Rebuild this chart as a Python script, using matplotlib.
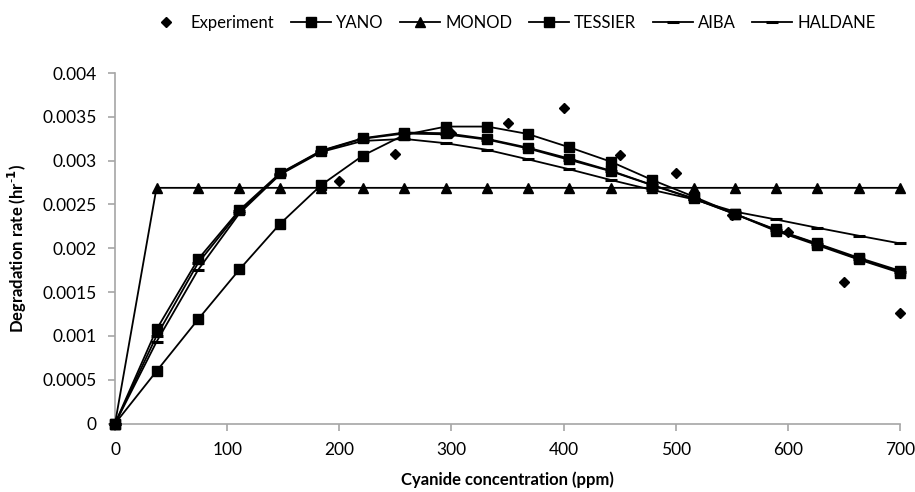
import numpy as np
import matplotlib.pyplot as plt

plt.rcParams['font.family'] = ['Lato', 'DejaVu Sans']

# cyanide concentration (ppm) for the model curves
conc = [0, 37, 74, 111, 147, 184, 221, 258, 295, 332,
        368, 405, 442, 479, 516, 553, 589, 626, 663, 700]

yano = [0, 0.000598, 0.001188, 0.001759, 0.002277, 0.002723, 0.003058, 0.003294, 0.003389, 0.003389,
        0.003305, 0.003153, 0.002989, 0.002780, 0.002590, 0.002391, 0.002216, 0.002056, 0.001893, 0.001744]
monod = [0] + [0.002690] * 19
tessier = [0, 0.001074, 0.001874, 0.002437, 0.002856, 0.003115, 0.003256, 0.003321, 0.003313, 0.003248,
           0.003149, 0.003024, 0.002886, 0.002723, 0.002570, 0.002390, 0.002200, 0.002037, 0.001873, 0.001721]
aiba = [0, 0.000933, 0.001752, 0.002400, 0.002840, 0.003100, 0.003225, 0.003248, 0.003199, 0.003123,
        0.003016, 0.002902, 0.002780, 0.002666, 0.002559, 0.002418, 0.002330, 0.002235, 0.002144, 0.002056]
haldane = [0, 0.001000, 0.001830, 0.002420, 0.002850, 0.003110, 0.003250, 0.003310, 0.003300, 0.003240,
           0.003140, 0.003010, 0.002880, 0.002720, 0.002565, 0.002390, 0.002210, 0.002050, 0.001880, 0.001735]

# experimental points
exp_conc = [0, 200, 250, 300, 350, 400, 450, 500, 550, 600, 650, 700]
exp_rate = [0, 0.002772, 0.003073, 0.00331, 0.003427, 0.003599, 0.003065, 0.002864,
            0.00238, 0.00219, 0.001618, 0.001257]

fig = plt.figure(figsize=(9.15, 4.92), dpi=100)
ax = fig.add_axes([0.1257, 0.139, 0.8579, 0.7126])

lw = 1.3
ax.plot(exp_conc, exp_rate, linestyle='none', marker='D', color='black', markersize=5, label='Experiment', zorder=5)
ax.plot(conc, yano, color='black', lw=lw, marker='s', markersize=7.5, label='YANO')
ax.plot(conc, monod, color='black', lw=lw, marker='^', markersize=7.5, label='MONOD')
ax.plot(conc, tessier, color='black', lw=lw, marker='s', markersize=7.5, label='TESSIER')
ax.plot(conc, aiba, color='black', lw=lw, marker='_', markersize=8, mew=2.2, label='AIBA')
ax.plot(conc, haldane, color='black', lw=lw, marker='_', markersize=8, mew=2.2, label='HALDANE')

ax.set_xlim(0, 700)
ax.set_ylim(0, 0.004)
ax.set_xticks(np.arange(0, 701, 100))
ax.set_yticks(np.arange(0, 0.00401, 0.0005))
ax.set_yticklabels(['0', '0.0005', '0.001', '0.0015', '0.002', '0.0025', '0.003', '0.0035', '0.004'])

for side in ['top', 'right']:
    ax.spines[side].set_visible(False)
for side in ['left', 'bottom']:
    ax.spines[side].set_color('#a6a6a6')
    ax.spines[side].set_linewidth(1.2)
    ax.spines[side].set_zorder(0)
ax.tick_params(axis='both', direction='out', length=5, width=1.2, color='#a6a6a6',
               labelsize=12.5, pad=8)
for line in ax.lines:
    line.set_clip_on(False)

ax.set_xlabel('Cyanide concentration (ppm)', fontsize=12, fontweight='bold', labelpad=10)
ax.set_ylabel('Degradation rate (hr$^{\\mathbf{\\text{-}1}}$)', fontsize=12, fontweight='bold', labelpad=10)

fig.legend(loc='upper center', bbox_to_anchor=(0.558, 1.0), ncol=6, frameon=False,
           fontsize=12, handlelength=2.4, columnspacing=1.0, handletextpad=0.3)

fig.savefig('out.png', dpi=100)
